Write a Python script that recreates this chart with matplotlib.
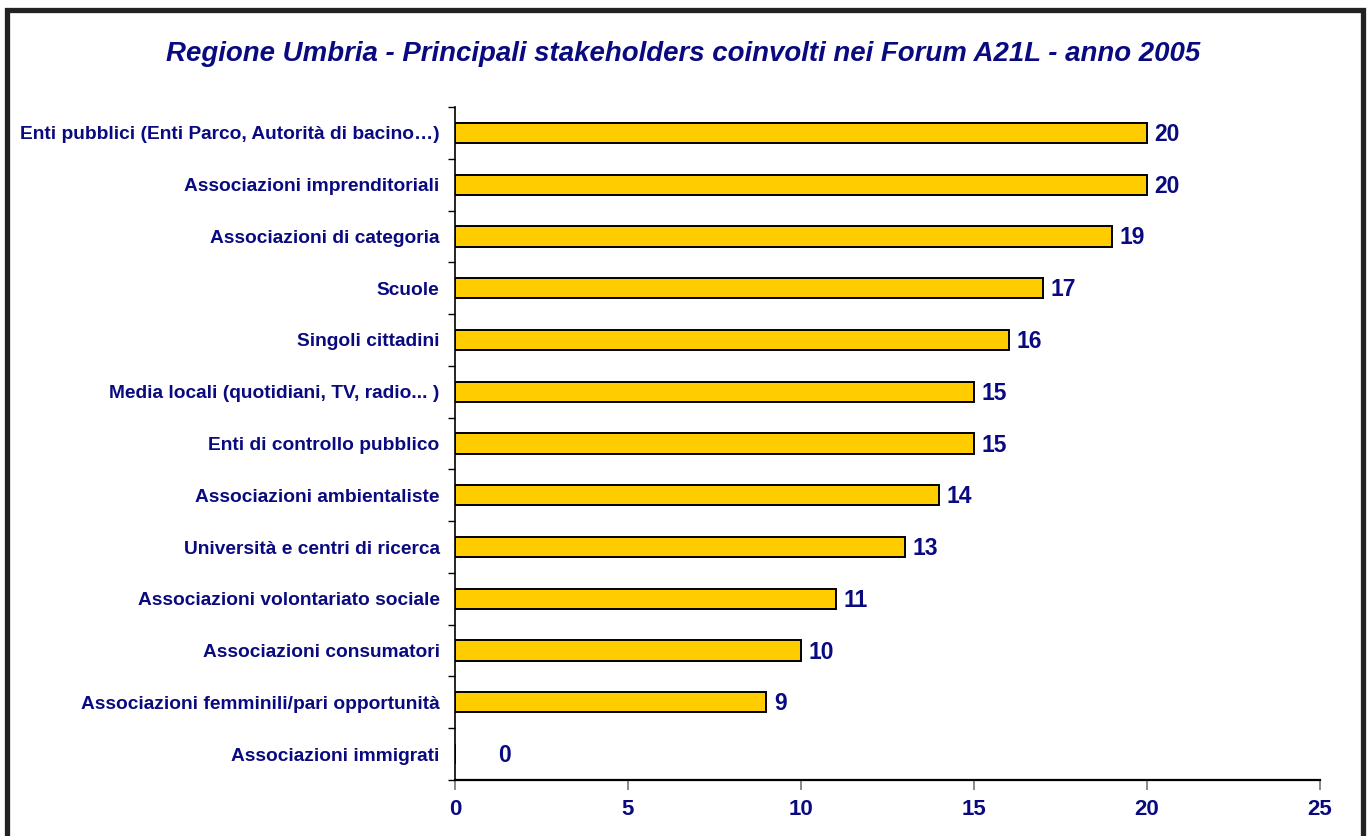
import matplotlib.pyplot as plt
from matplotlib.patches import Rectangle

categories = [
    'Enti pubblici (Enti Parco, Autorità di bacino…)',
    'Associazioni imprenditoriali',
    'Associazioni di categoria',
    'Scuole',
    'Singoli cittadini',
    'Media locali (quotidiani, TV, radio... )',
    'Enti di controllo pubblico',
    'Associazioni ambientaliste',
    'Università e centri di ricerca',
    'Associazioni volontariato sociale',
    'Associazioni consumatori',
    'Associazioni femminili/pari opportunità',
    'Associazioni immigrati',
]
values = [20, 20, 19, 17, 16, 15, 15, 14, 13, 11, 10, 9, 0]
xticks = [0, 5, 10, 15, 20, 25]

navy = '#0a0a80'
plt.rcParams['font.family'] = ['Liberation Sans', 'DejaVu Sans']

fig = plt.figure(figsize=(13.67, 8.36), dpi=100)
ax = fig.add_axes([0.3328, 0.067, 0.6328, 0.805])

n = len(categories)
pos = list(range(n))[::-1]
ax.barh(pos, values, height=0.39, color='#ffcc00', edgecolor='black', linewidth=1.4, zorder=3)

for p, v in zip(pos, values):
    x = v + 0.22 if v > 0 else 1.25
    ax.text(x, p - 0.03, str(v), va='center', ha='left', color=navy,
            fontsize=16.5, fontweight='bold')

ax.set_xlim(0, 25)
ax.set_ylim(-0.5, n - 0.5)
ax.set_xticks(xticks)
ax.set_xticklabels([str(t) for t in xticks], color=navy, fontsize=16, fontweight='bold')
ax.tick_params(axis='x', length=7, width=1.2, color='#777777', pad=7)

# category boundary ticks on y, labels at the centres
ax.set_yticks([i - 0.5 for i in range(n + 1)])
ax.set_yticklabels([])
ax.tick_params(axis='y', length=5, width=1, color='black')
ax.set_yticks(pos, minor=True)
ax.set_yticklabels(categories, minor=True, color=navy, fontsize=13.8, fontweight='bold')
ax.tick_params(axis='y', which='minor', length=0, pad=11)

for s in ['top', 'right']:
    ax.spines[s].set_visible(False)
ax.spines['left'].set_linewidth(1.2)
ax.spines['bottom'].set_linewidth(1.6)

fig.text(0.5, 0.935, 'Regione Umbria - Principali stakeholders coinvolti nei Forum A21L - anno 2005',
         ha='center', va='center', color=navy, fontsize=19.9, fontweight='bold', style='italic')

fig.patches.append(Rectangle((6.5 / 1367, -0.1), (1362.5 - 6.5) / 1367, 1.1 - 10.5 / 836,
                             transform=fig.transFigure, fill=False,
                             edgecolor='#222222', linewidth=3.8))

fig.savefig('out.png', dpi=100)
